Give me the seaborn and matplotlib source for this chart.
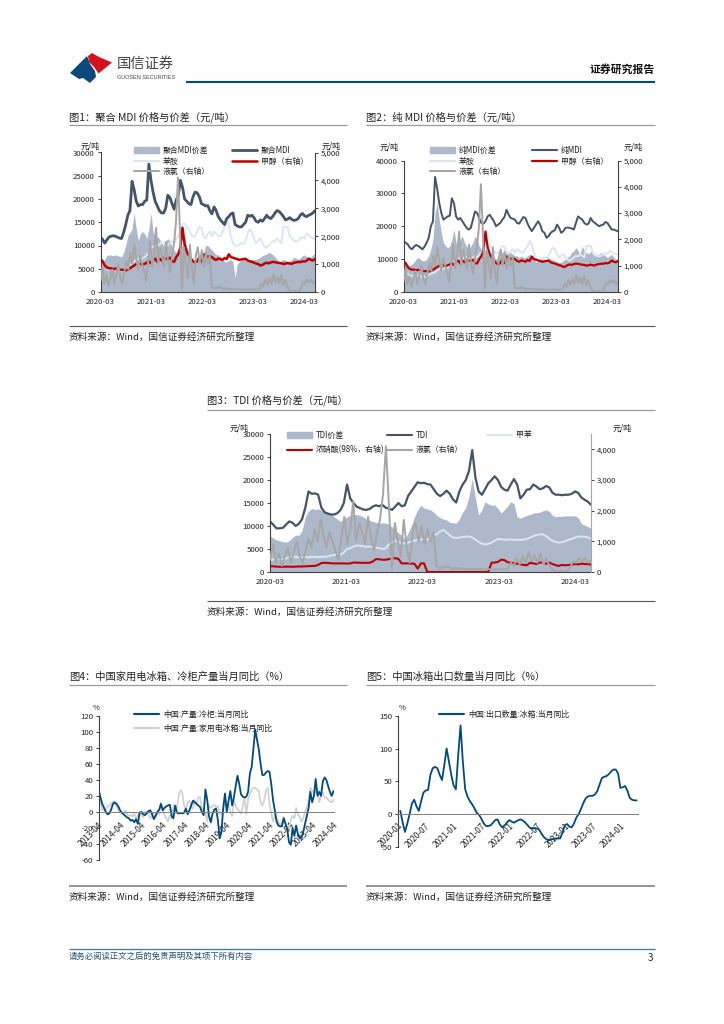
import pandas as pd
import numpy as np
import matplotlib.pyplot as plt
import seaborn as sns
from matplotlib.patches import Polygon, Patch
from matplotlib.lines import Line2D

W, H = 724, 1024

# shared right axis series (yuan/ton), half-month steps from 2020-03
chlorine = [400, 900, 300, 600, 200, 500, 800, 300, 650, 1000, 500, 300, 700, 1100, 800, 1400, 1000, 1700, 1200, 800,
            1300, 1000, 700, 400, 1100, 1800, 900, 1400, 2300, 1000, 1600, 1300, 900, 1800, 1100, 700, 1300, 1700,
            2500, 4100, 2200, 100, 1600, 1000, 500, 1700, 800, 300, 1300, 1600, 1000, 1500, 900, 1400, 1000, 1300,
            200, 130, 150, 150, 200, 100, 130, 120, 110, 110, 100, 100, 100, 100, 100, 90, 90, 90, 90, 90, 90, 90,
            80, 80, 100, 300, 200, 450, 250, 500, 300, 650, 350, 550, 300, 600, 250, 450, 200, 80, 30, 0, 50, 0, 20,
            150, 350, 300, 450, 350, 450, 300, 400]
methanol = [1180, 1100, 950, 880, 850, 850, 830, 840, 830, 800, 790, 800, 780, 800, 850, 900, 950, 1000, 1010, 1020,
            980, 1010, 1050, 1100, 1030, 1150, 1200, 1080, 1200, 1130, 1220, 1200, 1180, 1230, 1100, 1080, 1250, 1350,
            1600, 2300, 1700, 1450, 1300, 1200, 1100, 1050, 1100, 1250, 1100, 1350, 1300, 1250, 1280, 1250, 1180, 1150,
            1200, 1180, 1150, 1220, 1180, 1350, 1250, 1230, 1200, 1180, 1150, 1170, 1180, 1190, 1130, 1100, 1080, 1050,
            1020, 1000, 950, 970, 1020, 1050, 1030, 1060, 1080, 1070, 1050, 1040, 1030, 1000, 1020, 1040, 1020, 1010,
            1050, 1060, 1080, 1070, 1100, 1090, 1120, 1200, 1150, 1130, 1180]
aniline = [6000, 5800, 5500, 5000, 4800, 5000, 5200, 5000, 4800, 4600, 4500, 4800, 5200, 5600, 5800, 6000, 6500, 7000,
           7200, 7000, 7200, 7500, 8000, 8500, 9500, 9800, 10000, 10500, 10000, 10800, 10500, 10000, 10000, 10500,
           11000, 10500, 11500, 12000, 13000, 14500, 14700, 14000, 13500, 12500, 11800, 12000, 13000, 14000, 13800,
           12000, 11500, 12500, 13000, 12000, 13000, 12500, 12000, 12000, 13000, 14000, 15500, 14500, 12000, 10500,
           10000, 9800, 10200, 10500, 10300, 11000, 12500, 13500, 13000, 11500, 10500, 11000, 11500, 10500, 9800, 9500,
           10000, 10500, 11000, 10800, 11500, 11000, 10500, 14000, 14000, 14000, 12000, 11500, 11000, 10800, 11000,
           11500, 11800, 11500, 12500, 12300, 11800, 11500, 11500]

# figure 1
pmdi_spread = [5000, 6500, 7000, 7800, 8000, 7900, 7800, 8000, 7800, 7700, 7500, 8500, 10000, 12000, 12800, 13500,
               17000, 13500, 11000, 12500, 13000, 12500, 11500, 13500, 17000, 13000, 12000, 11800, 11500, 10500, 10000,
               11000, 11500, 11000, 9800, 9000, 8500, 9000, 9500, 10000, 12000, 9500, 8000, 7200, 6500, 6000, 6500,
               7000, 7500, 8500, 10000, 10000, 9500, 9000, 8500, 8000, 8000, 7500, 7000, 6500, 6500, 6800, 7000, 6500,
               3000, 6000, 6500, 7000, 7500, 7000, 6500, 6800, 7000, 7000, 7000, 7200, 7500, 7800, 8000, 8200, 8500,
               8300, 8000, 7500, 7000, 6500, 6700, 7000, 6800, 6500, 6700, 7000, 7500, 7300, 7000, 7300, 7800, 8000,
               7500, 7300, 7500, 8000, 8200]
pmdi_price = [11800, 11300, 10500, 11200, 11800, 12000, 12100, 12000, 11800, 11600, 11500, 12800, 14500, 16500, 17500,
              23800, 22000, 19500, 18500, 18800, 18800, 19500, 19800, 27500, 24000, 21500, 19500, 18500, 17500, 17000,
              17000, 18000, 20800, 20300, 19000, 17800, 19800, 20800, 24000, 22500, 20000, 19500, 19000, 18800, 20500,
              21500, 21300, 20500, 19000, 18800, 18500, 18600, 17500, 16800, 18300, 17500, 16200, 15500, 15000, 14500,
              15800, 16200, 16800, 17000, 14500, 14200, 14000, 14000, 14500, 15000, 16500, 16300, 16500, 16000, 15200,
              15000, 15500, 15200, 15800, 16500, 16000, 15800, 16300, 17000, 17500, 17300, 16800, 16200, 15500, 15700,
              16000, 15600, 15400, 15500, 15800, 16500, 16900, 16400, 16200, 16500, 16700, 17000, 17500]

# figure 2
mmdi_spread = [9500, 9000, 8500, 8000, 8500, 9000, 10000, 10500, 10000, 9500, 9500, 10000, 11000, 13000, 16000, 24000,
               27000, 22000, 18000, 15000, 14000, 13500, 14000, 16000, 19000, 15000, 14000, 16000, 17000, 15000, 14000,
               13000, 14000, 15000, 17000, 16000, 14000, 13000, 12500, 13000, 15000, 12000, 11000, 10500, 10000, 10500,
               11000, 12000, 13000, 12500, 12000, 12000, 11500, 11000, 11000, 10500, 11000, 10500, 10500, 11000, 11500,
               11000, 10500, 9000, 10000, 10500, 10000, 9500, 10000, 10500, 10000, 9800, 9500, 9200, 9000, 9000, 9500,
               10000, 10500, 11000, 12000, 12500, 13500, 12500, 11500, 14000, 12500, 12000, 11500, 12500, 11500, 11000,
               11000, 11500, 12000, 11500, 11000, 10500, 11000, 11500, 10500, 10000, 10000]
mmdi_price = [15500, 15000, 14500, 13500, 13000, 13800, 14300, 14000, 13500, 13000, 13800, 15000, 16500, 20000, 21500,
              35000, 31500, 27000, 24000, 22000, 22500, 23000, 23200, 28500, 27000, 23000, 22000, 22500, 21500, 20500,
              19500, 19000, 19500, 22000, 24500, 24000, 22500, 21000, 20800, 21500, 23000, 23500, 22500, 21500, 20000,
              20500, 21000, 22000, 22800, 25000, 23500, 22500, 22300, 22000, 21000, 20800, 21800, 22800, 22500, 20800,
              19500, 18500, 19500, 20500, 21500, 20500, 18500, 18000, 16500, 17000, 18000, 18500, 18800, 20500, 19500,
              18000, 18500, 19500, 19600, 19500, 19300, 19000, 21000, 23000, 22500, 22000, 21000, 20500, 20800, 22500,
              21500, 21000, 20500, 20000, 20300, 20500, 21300, 21000, 20000, 19000, 19000, 18700, 18500]

# figure 3
tdi_spread = [7800, 7400, 7000, 6800, 6600, 6500, 6800, 7500, 8000, 8000, 9000, 12000, 13200, 13800, 13600, 13700,
              13500, 13200, 12800, 12500, 12000, 11500, 11000, 11500, 12000, 12300, 12500, 12500, 12300, 12000, 11500,
              11200, 11000, 10800, 10600, 10700, 10600, 10400, 9800, 9000, 8500, 8000, 7000, 8500, 10000, 12000, 13500,
              14500, 13900, 13700, 13500, 13000, 12300, 11800, 11500, 11300, 10800, 10700, 10600, 11500, 13000, 14000,
              16500, 20400, 16000, 12400, 13500, 15300, 14800, 14500, 14600, 13800, 12800, 13500, 14300, 15300, 14800,
              12000, 11700, 12000, 12300, 12500, 12800, 12900, 13000, 13300, 13500, 13200, 12300, 12000, 12100, 12100,
              12200, 12200, 12200, 12200, 11800, 10500, 10200, 9900, 9500]
tdi_price = [11000, 10300, 9500, 9500, 9600, 10300, 11000, 10700, 10000, 10500, 11500, 14000, 17500, 17000, 17100,
             16800, 14000, 13000, 12700, 12500, 12500, 12800, 13500, 15000, 19000, 16000, 15000, 14200, 13900, 13600,
             13500, 13700, 14200, 14500, 14300, 14600, 14000, 13800, 13500, 14200, 15000, 14300, 14500, 16500, 17500,
             18500, 19500, 19300, 19400, 19100, 19000, 18000, 17000, 16500, 17000, 17700, 17000, 15800, 15100, 17500,
             19000, 20000, 22000, 26500, 20500, 17500, 16800, 18000, 19300, 20000, 20800, 20000, 18500, 17900, 17700,
             19000, 20200, 19000, 16000, 16800, 17900, 18000, 19000, 18600, 18000, 18200, 18700, 18400, 17200, 16800,
             16800, 16700, 16800, 16800, 17000, 17500, 17200, 16200, 15700, 15300, 14600]
toluene = [2500, 2700, 2900, 2800, 2700, 3000, 3200, 3300, 3300, 3200, 3100, 3200, 3200, 3300, 3300, 3200, 3300, 3300,
           3400, 3600, 3700, 3800, 3800, 4200, 5000, 5200, 5500, 5800, 5700, 5600, 5500, 5500, 5500, 5300, 5200, 5000,
           5100, 6000, 6500, 6800, 6500, 6300, 6200, 6400, 6600, 6800, 7000, 7100, 7200, 7000, 7500, 8000, 8200, 8800,
           9200, 8600, 8000, 7500, 7400, 7500, 7600, 7700, 7700, 7500, 7000, 6500, 6200, 6000, 6100, 6400, 6800, 7200,
           7100, 7000, 7000, 7100, 7000, 7000, 7000, 7000, 7200, 7500, 7800, 8000, 8200, 8200, 7800, 7200, 6800, 6500,
           6400, 6500, 6700, 7000, 7200, 7500, 7700, 7700, 7700, 7500, 7300]
nitric = [190, 185, 175, 170, 170, 175, 175, 170, 175, 180, 180, 185, 190, 195, 200, 230, 290, 300, 295, 285, 280, 280,
          280, 280, 275, 280, 310, 305, 300, 300, 300, 300, 340, 420, 415, 400, 400, 420, 440, 450, 430, 280, 280, 280,
          275, 270, 110, 280, 280, 0, 0, 0, 0, 0, 0, 0, 0, 0, 0, 0, 0, 0, 0, 0, 0, 0, 0, 0, 0, 300, 310, 330, 400, 390,
          320, 300, 290, 270, 250, 230, 220, 300, 280, 260, 310, 300, 270, 310, 260, 220, 200, 230, 220, 230, 240, 260,
          250, 270, 260, 260, 240]

# figure 4
freezer = [27, 18, 10, 5, 0, -3, -2, 3, 10, 12, 10, 7, 2, -1, -3, -5, -7, -8, -11, -10, -13, -9, -15, -1, 0, -3, -4,
           -2, 1, 2, -3, -9, -5, 0, 3, 10, 2, 5, 7, 8, 9, -5, -8, 8, -1, -2, -1, -2, -1, 4, -3, 2, 8, 14, 12, 10, 8, 6,
           0, -4, 28, 15, -5, -13, -2, 3, 4, -10, -33, -25, 5, 23, 0, 14, 26, 8, 18, 32, 45, 35, 22, 19, 18, 19, 25, 48,
           56, 79, 103, 90, 78, 60, 46, 46, 49, 51, 50, 35, 15, 2, -12, -17, -18, -18, -8, -15, -22, -38, -41, -20, -30,
           -17, -28, -33, -32, -25, -15, -5, 5, 25, 12, 20, 41, 20, 25, 20, 38, 43, 40, 32, 25, 20, 26]
fridge = [29, 12, 2, 4, 3, 7, 8, 10, 13, 12, 8, 1, 0, -2, -1, 2, -3, -5, -4, -6, -2, -8, -5, 0, -4, -7, -2, 1, -3, -8,
          -5, -1, -6, 1, -3, 12, 2, -4, -8, -12, -4, -9, 9, -2, 6, 20, 27, 24, 8, 3, 12, 14, 6, 4, 15, 9, 18, 19, 5, 2,
          -2, -12, 8, 5, 7, 9, 5, 8, -2, -3, 3, 15, 6, 10, 0, -5, 14, 8, 3, 1, -2, 8, 18, -3, 16, 22, 28, 30, 30, 28, 26,
          12, 8, 14, 26, 30, 12, -2, -12, -5, -8, -12, -18, -12, -6, -14, -16, -20, -10, -5, -8, 5, -3, -6, -12, -8, 0,
          5, 15, 30, 27, 22, 25, 28, 12, 20, 24, 18, 18, 15, 13, 12, 15]

# figure 5
fridge_export = [5, -12, -27, -15, 0, 16, 22, 12, 5, 20, 33, 36, 37, 60, 70, 72, 70, 60, 52, 75, 100, 80, 60, 44, 38,
                 90, 135, 80, 38, 27, 20, 15, 9, 2, -1, -7, -14, -18, -18, -17, -13, -9, -8, -16, -20, -17, -13, -9,
                 -11, -13, -11, -9, -8, -10, -13, -17, -21, -22, -21, -22, -24, -30, -35, -38, -40, -38, -38, -37, -37,
                 -37, -28, -17, -15, -19, -20, -14, -5, 0, 8, 17, 24, 27, 28, 28, 30, 35, 45, 55, 57, 58, 61, 65, 68,
                 68, 62, 40, 41, 43, 36, 25, 22, 21, 21]

year_ticks = ['2020-03', '2021-03', '2022-03', '2023-03', '2024-03']
fig4_labels = ['2013-04', '2014-04', '2015-04', '2016-04', '2017-04', '2018-04', '2019-04', '2020-04', '2021-04',
               '2022-04', '2023-04', '2024-04']
fig5_ticks = ['2020-01', '2020-07', '2021-01', '2021-07', '2022-01', '2022-07', '2023-01', '2023-07', '2024-01']

NAVY = '#44546A'
FILL = '#ADB9CA'
PALE = '#DCE6F2'
RED = '#C00000'
GRAY = '#A6A6A6'
BLUE = '#004A7F'
SILVER = '#D0D0D0'
DARK = '#404040'
INK = '#222222'
TICK_FS = 5.6


def px_axes(fig, left, top, right, bottom):
    return fig.add_axes([left / W, 1 - bottom / H, (right - left) / W, (bottom - top) / H])


def span(values, start, end):
    return pd.date_range(start, end, periods=len(values))


def line(ax, values, start, end, color, lw):
    sns.lineplot(x=span(values, start, end), y=values, ax=ax, color=color, lw=lw, errorbar=None, legend=False)


def style_axis(ax, right=False):
    for name in ['top', 'right', 'left', 'bottom']:
        ax.spines[name].set_visible(False)
    side = 'right' if right else 'left'
    ax.spines[side].set_visible(True)
    ax.spines[side].set_color(DARK)
    ax.spines[side].set_linewidth(0.8)
    ax.tick_params(axis='y', labelsize=TICK_FS, length=2.5, width=0.7, color=DARK, pad=1.5, labelcolor=INK,
                   left=not right, right=right, labelleft=not right, labelright=right)
    ax.set_xlabel('')
    ax.set_ylabel('')


def price_chart(fig, box, spread, pale, price, acid, gas, ymax, ystep, rmax, rticks, right_color, price_lw, red_lw):
    start, end = '2020-03-01', '2024-05-16'
    ax = px_axes(fig, *box)
    ax.fill_between(span(spread, start, end), spread, 0, color=FILL, lw=0)
    line(ax, pale, start, end, PALE, 1.4)
    line(ax, price, start, end, NAVY, price_lw)
    ax.set_xlim(pd.Timestamp(start), pd.Timestamp(end))
    ax.set_ylim(0, ymax)
    ax.set_yticks(np.arange(0, ymax + 1, ystep))
    style_axis(ax)
    ax.spines['bottom'].set_visible(True)
    ax.spines['bottom'].set_color(DARK)
    ax.spines['bottom'].set_linewidth(0.8)
    ax.set_xticks([pd.Timestamp(t + '-01') for t in year_ticks])
    ax.set_xticklabels(year_ticks, fontsize=TICK_FS, color=INK)
    ax.tick_params(axis='x', length=2.5, width=0.7, color=DARK, pad=2)

    ax2 = ax.twinx()
    line(ax2, acid, start, end, RED, red_lw)
    line(ax2, gas, start, end, GRAY, 1.4)
    ax2.set_xlim(pd.Timestamp(start), pd.Timestamp(end))
    ax2.set_ylim(0, rmax)
    ax2.set_yticks(rticks)
    ax2.set_yticklabels([f'{v:,}' for v in rticks])
    style_axis(ax2, right=True)
    ax2.spines['right'].set_color(right_color)
    return ax


def legend_col(handles, labels, x, y, gap=0.2):
    # one legend per column, x is the handle start and y the first row top
    fig.legend(handles, labels, loc='upper left', bbox_to_anchor=(x / W, 1 - y / H), frameon=False, fontsize=5.7,
               handlelength=3.2, handletextpad=0.45, labelspacing=gap, borderpad=0, borderaxespad=0, labelcolor=INK)


def proxy(color, lw=1.5):
    return Line2D([], [], color=color, lw=lw)


sns.set_theme(style='white')
plt.rcParams['font.family'] = ['Noto Sans CJK SC', 'DejaVu Sans']
plt.rcParams['axes.unicode_minus'] = False

fig = plt.figure(figsize=(7.24, 10.24), dpi=100)

# page layer in pixel units
page = fig.add_axes([0, 0, 1, 1])
page.set_xlim(0, W)
page.set_ylim(H, 0)
page.axis('off')


def rule(x0, x1, y, color, lw):
    page.plot([x0, x1], [y, y], color=color, lw=lw, solid_capstyle='butt')


def section(x0, x1, title, title_y, top_y, bottom_y, heavy=False):
    page.text(x0, title_y, title, fontsize=7.4, va='center', ha='left', color=INK)
    rule(x0, x1, top_y, '#9A9A9A', 0.9)
    rule(x0, x1, bottom_y, '#8C8C8C' if heavy else '#555555', 1.3 if heavy else 0.8)
    page.text(x0, bottom_y + 11.5, '资料来源：Wind，国信证券经济研究所整理', fontsize=6.9, va='center', ha='left',
              color=INK)


# header
page.add_patch(Polygon([(70, 73), (87, 56), (90, 64), (95, 71), (96, 77), (90, 83), (83, 78), (79, 79)],
                       color='#0A4A7C', lw=0))
page.add_patch(Polygon([(88, 56), (92, 53), (99, 57), (112, 62.5), (98.5, 73.5), (94, 67), (89, 62)],
                       color='#D7101E', lw=0))
page.text(116.5, 63.5, '国信证券', fontsize=10.3, va='center', ha='left', color='#444444')
page.text(117, 77.5, 'GUOSEN SECURITIES', fontsize=3.95, va='center', ha='left', color='#444444',
          family='Liberation Sans')
page.text(655, 69, '证券研究报告', fontsize=7.8, va='center', ha='right', color='#111111', fontweight='bold')
rule(186, 655, 82, BLUE, 1.5)

# footer
rule(69, 655, 948.5, '#3B78A8', 0.9)
page.text(69, 956.5, '请务必阅读正文之后的免责声明及其项下所有内容', fontsize=6, va='center', ha='left', color='#1F4E79')
page.text(650, 958, '3', fontsize=7, va='center', ha='center', color=INK)

section(69, 347, '图1：聚合 MDI 价格与价差（元/吨）', 117, 124.5, 325.5)
section(366, 655, '图2：纯 MDI 价格与价差（元/吨）', 117, 124.5, 325.5)
section(207, 655, '图3：TDI 价格与价差（元/吨）', 400.5, 409.5, 600.5)
section(69, 347, '图4：中国家用电冰箱、冷柜产量当月同比（%）', 676.5, 685, 885.5, heavy=True)
section(366, 655, '图5：中国冰箱出口数量当月同比（%）', 676.5, 685, 885.5, heavy=True)

# charts 1-2
ax1 = price_chart(fig, (100.5, 152.5, 315, 292), pmdi_spread, aniline, pmdi_price, methanol, chlorine,
                  30000, 5000, 5000, [0, 1000, 2000, 3000, 4000, 5000], DARK, 2.0, 1.8)
legend_col([Patch(color=FILL), proxy(PALE), proxy(GRAY)], ['聚合MDI价差', '苯胺', '液氯（右轴）'], 134, 146)
legend_col([proxy(NAVY, 2.0), proxy(RED, 1.8)], ['聚合MDI', '甲醇（右轴）'], 232, 146)
page.text(100, 146.5, '元/吨', fontsize=5.8, va='center', ha='right', color=INK)
page.text(322, 146.5, '元/吨', fontsize=5.8, va='center', ha='left', color=INK)

ax2 = price_chart(fig, (403.5, 160.5, 618, 292), mmdi_spread, aniline, mmdi_price, methanol, chlorine,
                  40000, 10000, 5000, [0, 1000, 2000, 3000, 4000, 5000], DARK, 1.4, 1.6)
legend_col([Patch(color=FILL), proxy(PALE), proxy(GRAY)], ['纯MDI价差', '苯胺', '液氯（右轴）'], 430, 146)
legend_col([proxy(NAVY), proxy(RED, 1.6)], ['纯MDI', '甲醇（右轴）'], 532, 146)
page.text(399, 147, '元/吨', fontsize=5.8, va='center', ha='right', color=INK)
page.text(624, 147, '元/吨', fontsize=5.8, va='center', ha='left', color=INK)

# chart 3
ax3 = price_chart(fig, (270, 434, 591, 572), tdi_spread, toluene, tdi_price, nitric, chlorine,
                  30000, 5000, 4500, [0, 1000, 2000, 3000, 4000], GRAY, 1.6, 1.5)
legend_col([Patch(color=FILL), proxy(RED)], ['TDI价差', '浓硝酸(98%，右轴)'], 287, 430.5, gap=0.75)
legend_col([proxy(NAVY), proxy(GRAY)], ['TDI', '液氯（右轴）'], 387, 430.5, gap=0.75)
legend_col([proxy(PALE)], ['甲苯'], 487, 430.5)
page.text(249, 427.5, '元/吨', fontsize=5.8, va='center', ha='right', color=INK)
page.text(613, 427.5, '元/吨', fontsize=5.8, va='center', ha='left', color=INK)

# chart 4
ax4 = px_axes(fig, 98.7, 715.7, 333.5, 860)
start4, end4 = '2013-04-01', '2024-04-01'
line(ax4, fridge, start4, end4, SILVER, 1.2)
line(ax4, freezer, start4, end4, BLUE, 1.3)
ax4.set_xlim(pd.Timestamp(start4), pd.Timestamp(end4))
ax4.set_ylim(-60, 120)
ax4.set_yticks(np.arange(-60, 121, 20))
style_axis(ax4)
ax4.spines['bottom'].set_visible(True)
ax4.spines['bottom'].set_position(('data', 0))
ax4.spines['bottom'].set_color('#808080')
ax4.spines['bottom'].set_linewidth(0.7)
ax4.set_xticks(pd.date_range(start4, end4, periods=len(fig4_labels)))
ax4.set_xticklabels(fig4_labels, fontsize=6, rotation=45, ha='right', rotation_mode='anchor', color=INK)
ax4.tick_params(axis='x', length=0, pad=6)
legend_col([proxy(BLUE), proxy(SILVER)], ['中国:产量:冷柜:当月同比', '中国:产量:家用电冰箱:当月同比'], 134, 709.5, gap=0.7)
page.text(96, 708, '%', fontsize=5.5, va='center', ha='center', color=INK)

# chart 5
ax5 = px_axes(fig, 398, 715.7, 638, 847)
start5, end5 = '2020-01-16', '2024-04-16'
line(ax5, fridge_export, start5, end5, BLUE, 1.3)
ax5.set_xlim(pd.Timestamp('2020-01-01'), pd.Timestamp('2024-04-25'))
ax5.set_ylim(-50, 150)
ax5.set_yticks(np.arange(-50, 151, 50))
style_axis(ax5)
ax5.spines['bottom'].set_visible(True)
ax5.spines['bottom'].set_position(('data', 0))
ax5.spines['bottom'].set_color('#808080')
ax5.spines['bottom'].set_linewidth(0.7)
ax5.set_xticks([pd.Timestamp(t + '-01') for t in fig5_ticks])
ax5.set_xticklabels(fig5_ticks, fontsize=6, rotation=45, ha='right', rotation_mode='anchor', color=INK)
ax5.tick_params(axis='x', length=2, width=0.6, color='#808080', pad=3)
legend_col([proxy(BLUE)], ['中国:出口数量:冰箱:当月同比'], 439, 709.5)
page.text(402.5, 708, '%', fontsize=5.5, va='center', ha='center', color=INK)

fig.savefig('out.png', dpi=100)
plt.close()
